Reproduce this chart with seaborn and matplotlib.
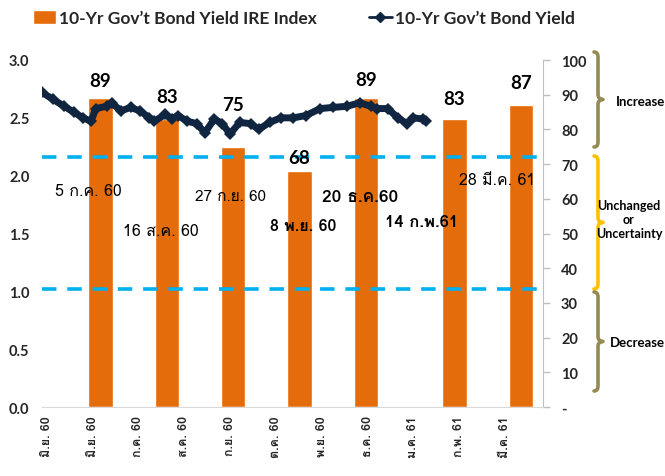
import pandas as pd
import matplotlib
matplotlib.use('Agg')
import matplotlib.pyplot as plt
import seaborn as sns
from matplotlib.path import Path
from matplotlib.patches import PathPatch, Patch
from matplotlib.lines import Line2D

# IRE index survey results (right axis, 0-100)
survey_dates = ['2017-07-05', '2017-08-16', '2017-09-27', '2017-11-08',
                '2017-12-20', '2018-02-14', '2018-03-28']
ire_index = [89, 83, 75, 68, 89, 83, 87]
# where each value label sits (index scale)
ire_label_y = [94.0, 89.6, 87.3, 72.0, 94.5, 88.8, 93.4]

# 10-yr government bond yield (left axis, %)
yield_dates = ['2017-05-29', '2017-06-05', '2017-06-12', '2017-06-18', '2017-06-24',
               '2017-06-29', '2017-07-02', '2017-07-09', '2017-07-12', '2017-07-18',
               '2017-07-24', '2017-07-30', '2017-08-05', '2017-08-08', '2017-08-15',
               '2017-08-19', '2017-08-23', '2017-08-29', '2017-09-04', '2017-09-09',
               '2017-09-15', '2017-09-20', '2017-09-25', '2017-10-01', '2017-10-08',
               '2017-10-13', '2017-10-20', '2017-10-27', '2017-11-04', '2017-11-12',
               '2017-11-21', '2017-11-29', '2017-12-08', '2017-12-16', '2017-12-23',
               '2017-12-27', '2018-01-03', '2018-01-09', '2018-01-15', '2018-01-19',
               '2018-01-25', '2018-01-27']
yield_values = [2.72, 2.66, 2.60, 2.55, 2.50, 2.47, 2.58, 2.60, 2.63, 2.56,
                2.59, 2.56, 2.50, 2.47, 2.53, 2.49, 2.52, 2.47, 2.45, 2.37,
                2.49, 2.45, 2.36, 2.46, 2.45, 2.40, 2.46, 2.50, 2.50, 2.52,
                2.58, 2.59, 2.60, 2.63, 2.60, 2.58, 2.58, 2.50, 2.45, 2.50,
                2.49, 2.47]

# x tick labels (Thai month abbreviations)
tick_dates = ['2017-06-01', '2017-06-30', '2017-07-29', '2017-08-27', '2017-09-25',
              '2017-10-24', '2017-11-22', '2017-12-21', '2018-01-19', '2018-02-17',
              '2018-03-18']
tick_labels = ['มิ.ย. 60', 'มิ.ย. 60', 'ก.ค. 60', 'ส.ค. 60', 'ก.ย. 60', 'ต.ค. 60',
               'พ.ย. 60', 'ธ.ค. 60', 'ม.ค. 61', 'ก.พ. 61', 'มี.ค. 61']

# threshold lines on the index scale
thresholds = [72, 34]

# survey date notes: text, x date, y (index scale), weight, size
notes = [
    ('5 ก.ค. 60', '2017-06-27', 62.3, 'normal', 11.5),
    ('16 ส.ค. 60', '2017-08-12', 50.7, 'normal', 11.5),
    ('27 ก.ย. 60', '2017-09-25', 60.8, 'normal', 11),
    ('8 พ.ย. 60', '2017-11-10', 52.2, 'bold', 11.5),
    ('20 ธ.ค.60', '2017-12-16', 60.8, 'bold', 12.5),
    ('14 ก.พ.61', '2018-01-24', 53.6, 'bold', 12),
    ('28 มี.ค. 61', '2018-03-13', 65.4, 'normal', 11.5),
]

BAR_COLOR = '#E46C0A'
LINE_COLOR = '#10253F'
DASH_COLOR = '#00B0F0'
THAI = ['Loma', 'Noto Sans Thai Looped', 'DejaVu Sans']

W, H = 665, 477

sns.set_style('white')
plt.rcParams['font.family'] = ['Lato', 'Noto Sans Thai Looped', 'DejaVu Sans']

df_bar = pd.DataFrame({'date': pd.to_datetime(survey_dates), 'index': ire_index})
df_line = pd.DataFrame({'date': pd.to_datetime(yield_dates), 'yield': yield_values})

fig = plt.figure(figsize=(W / 100, H / 100), dpi=100)
ax = fig.add_axes([42 / W, 1 - 408 / H, (543 - 42) / W, (408 - 61) / H])
ax2 = ax.twinx()

# bars on the right axis
ax2.bar(df_bar['date'], df_bar['index'], width=15.5, color=BAR_COLOR, zorder=2)
for d, v, ly in zip(df_bar['date'], df_bar['index'], ire_label_y):
    ax2.text(d, ly, str(v), ha='center', va='center', fontsize=13.5,
             fontweight='bold', color='black', zorder=4)

for t in thresholds:
    ax2.axhline(t, color=DASH_COLOR, lw=2.6, ls=(0, (4, 3)), zorder=3)

for text, d, y, wt, sz in notes:
    ax2.text(pd.Timestamp(d), y, text, ha='center', va='center', fontsize=sz,
             fontweight=wt, color='black', family=THAI, zorder=4)

# yield line on the left axis, drawn above the bars
sns.lineplot(data=df_line, x='date', y='yield', ax=ax, color=LINE_COLOR, lw=5,
             marker='D', markersize=6.5, markeredgewidth=0, zorder=5)
ax.set_zorder(ax2.get_zorder() + 1)
ax.patch.set_visible(False)

ax.set_xlim(pd.Timestamp('2017-05-29'), pd.Timestamp('2018-04-11'))
ax.set_ylim(0, 3.0)
ax2.set_ylim(0, 100)

ax.set_yticks([0, 0.5, 1.0, 1.5, 2.0, 2.5, 3.0])
ax.set_yticklabels(['%.1f' % v for v in ax.get_yticks()], fontsize=10.5, fontweight='bold')
ax.tick_params(axis='y', length=0, pad=9)

ax.set_xticks(pd.to_datetime(tick_dates))
ax.set_xticklabels(tick_labels, rotation=90, fontsize=9, fontweight='bold', family=THAI)
ax.tick_params(axis='x', length=0, pad=6)

ax2.set_yticks(range(0, 101, 10))
ax2.set_yticklabels(['-'] + [str(v) for v in range(10, 101, 10)], fontsize=10.5,
                    fontweight='bold')
ax2.tick_params(axis='y', length=5, width=1, color='#BFBFBF', pad=8, direction='out')

ax.set_xlabel('')
ax.set_ylabel('')
for a in (ax, ax2):
    for s in ('top', 'left'):
        a.spines[s].set_visible(False)
    a.spines['bottom'].set_color('#D9D9D9')
    a.spines['right'].set_color('#BFBFBF')
ax.spines['right'].set_visible(False)
ax2.spines['bottom'].set_visible(False)


def brace(x, y_top, y_bot, color):
    # curly brace in pixel coordinates, nub pointing right
    mid = (y_top + y_bot) / 2
    c = 5
    pts = [(x - 4, y_top), (x, y_top), (x, y_top + c), (x, mid - c), (x, mid),
           (x + 5, mid), (x, mid), (x, mid + c), (x, y_bot - c), (x, y_bot),
           (x - 4, y_bot)]
    codes = [Path.MOVETO, Path.CURVE3, Path.CURVE3, Path.LINETO, Path.CURVE3,
             Path.CURVE3, Path.CURVE3, Path.CURVE3, Path.LINETO, Path.CURVE3,
             Path.CURVE3]
    verts = [(px / W, 1 - py / H) for px, py in pts]
    fig.add_artist(PathPatch(Path(verts, codes), transform=fig.transFigure,
                             fill=False, edgecolor=color, lw=2.6,
                             capstyle='round', joinstyle='round'))


brace(598, 53, 148, '#948A54')
brace(598, 157, 290, '#FFC000')
brace(598, 293, 392, '#948A54')

side_font = dict(fontsize=9.5, fontweight='bold', color='black', va='center')
fig.text(616 / W, 1 - 102 / H, 'Increase', ha='left', **side_font)
fig.text(629 / W, 1 - 220 / H, 'Unchanged\nor\nUncertainty', ha='center',
         linespacing=1.25, fontsize=9, fontweight='bold', color='black', va='center')
fig.text(610 / W, 1 - 343 / H, 'Decrease', ha='left', **side_font)

handles = [Patch(facecolor=BAR_COLOR),
           Line2D([], [], color=LINE_COLOR, lw=2, marker='D', markersize=5)]
labels = ['10-Yr Gov’t Bond Yield IRE Index', '10-Yr Gov’t Bond Yield']
fig.legend(handles, labels, loc='center left', bbox_to_anchor=(33 / W, 1 - 19 / H),
           ncol=2, frameon=False, handlelength=1.3, handleheight=0.9,
           handletextpad=0.2, columnspacing=3.0, borderaxespad=0, borderpad=0,
           prop=dict(weight='bold', size=12.5))

fig.savefig('out.png', dpi=100)
